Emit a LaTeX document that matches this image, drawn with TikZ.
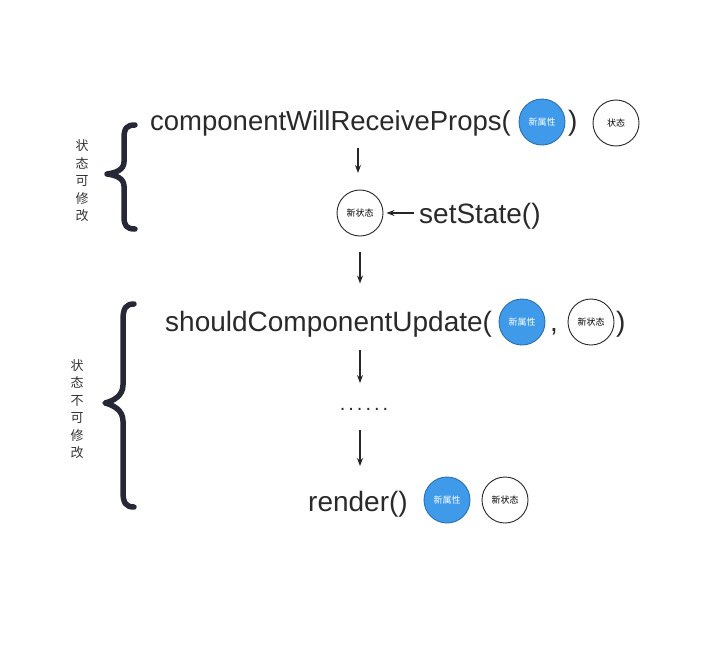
\documentclass[tikz,border=0pt]{standalone}
\usepackage{fontspec}
\setmainfont{Liberation Sans}
\newfontfamily\cjk{Noto Sans CJK SC}
\usetikzlibrary{arrows.meta}
\definecolor{bluefill}{HTML}{3F9BEA}
\definecolor{blueedge}{HTML}{2A6FB0}
\definecolor{bracec}{HTML}{262838}
\definecolor{txt}{HTML}{2A2A2A}
\tikzset{
  big/.style={inner sep=0pt, anchor=base west, font=\fontsize{28}{28}\selectfont, text=txt},
  bluec/.style={circle, fill=bluefill, draw=blueedge, line width=0.9pt, minimum size=46pt, inner sep=0pt, text=white, font=\cjk\fontsize{9}{9}\selectfont},
  whitec/.style={circle, fill=white, draw=black!85, line width=0.9pt, minimum size=46pt, inner sep=0pt, text=black, font=\cjk\fontsize{9}{9}\selectfont},
  arr/.style={-{Stealth[length=8pt,width=6pt]}, line width=1.1pt, black!85},
  bracestyle/.style={line width=5.5pt, bracec, line cap=round, line join=round},
  vlabel/.style={align=center, inner sep=0pt, font=\cjk\fontsize{13}{17.5}\selectfont, text=black!80},
}
\begin{document}
\begin{tikzpicture}[x=1pt,y=-1pt]
\useasboundingbox (0,0) rectangle (720,659);
% row 1
\node[big, font=\fontsize{27.5}{28}\selectfont] (cwrp) at (150,130) {componentWillReceiveProps(};
\node[bluec] (p1) at (542,122) {新属性};
\node[big] (cp1) at (568,130) {)};
\node[whitec] (s1) at (616,123) {状态};
% setState
\node[whitec] (ns) at (360,213) {新状态};
\node[big] (ss) at (419,223) {setState()};
% row 2
\node[big] (scu) at (165,331) {shouldComponentUpdate(};
\node[bluec] (p2) at (522,322) {新属性};
\node[big] (cm) at (550,331) {,};
\node[whitec] (s2) at (591,322) {新状态};
\node[big] (cp2) at (616,331) {)};
% dots
\node[inner sep=0pt, font=\fontsize{20}{20}\selectfont, text=txt] (dots) at (364,409) {.\hspace{3pt}.\hspace{3pt}.\hspace{3pt}.\hspace{3pt}.\hspace{3pt}.};
% render
\node[big] (rd) at (308,511) {render()};
\node[bluec] (p3) at (447,500) {新属性};
\node[whitec] (s3) at (505,500) {新状态};
% arrows
\coordinate (a1s) at (358,148);
\coordinate (a1e) at (358,173);
\draw[arr] (a1s) -- (a1e);
\coordinate (a2s) at (414,213);
\draw[arr] (a2s) -- ([xshift=3pt]ns.east);
\draw[arr] ([yshift=-16pt]ns.south) -- ([yshift=-47pt]ns.south);
\coordinate (a4s) at (360,350);
\coordinate (a4e) at (360,383);
\draw[arr] (a4s) -- (a4e);
\coordinate (a5s) at (360,430);
\coordinate (a5e) at (360,466);
\draw[arr] (a5s) -- (a5e);
% braces
\draw[bracestyle] (135,125) .. controls (127,125) and (124,128) .. (124,138)
  -- (124,162) .. controls (124,170) and (115,173) .. (107,174)
  .. controls (115,175) and (124,178) .. (124,186)
  -- (124,217) .. controls (124,226) and (127,229) .. (135,229);
\draw[bracestyle] (134,304) .. controls (126,304) and (123,308) .. (123,320)
  -- (123,385) .. controls (123,396) and (113,401) .. (105,403)
  .. controls (113,405) and (123,410) .. (123,421)
  -- (123,492) .. controls (123,503) and (126,507) .. (134,507);
% labels
\node[vlabel] (l1) at (82,181) {状\\态\\可\\修\\改};
\node[vlabel] (l2) at (77,409) {状\\态\\不\\可\\修\\改};
\end{tikzpicture}
\end{document}
